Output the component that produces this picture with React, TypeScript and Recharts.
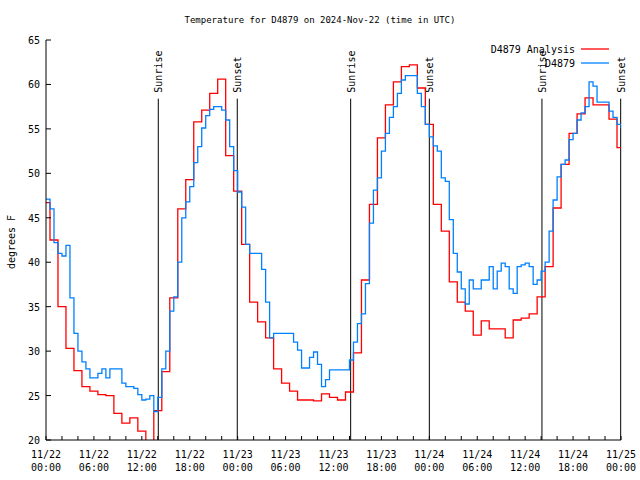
import { LineChart, Line, XAxis, YAxis, ReferenceLine, Legend } from "recharts";

const FONT = "'DejaVu Sans Mono', monospace";

// hourly analysis values, hour 0 = 11/22 00:00 UTC
const analysisTemps = [
  46.7, 42.5, 35.0, 30.3, 27.8, 26.0, 25.5, 25.1, 25.0, 23.0, 21.9, 22.5,
  21.0, 19.0, 23.3, 27.7, 36.0, 46.0, 49.3, 55.8, 57.1, 59.0, 60.6, 52.0,
  48.0, 42.0, 35.5, 33.3, 31.5, 28.0, 26.4, 25.5, 24.5, 24.5, 24.4, 25.2,
  24.8, 24.5, 25.4, 29.8, 38.0, 46.5, 54.0, 57.7, 60.3, 62.0, 62.2, 59.6,
  55.5, 46.5, 43.5, 37.8, 35.5, 34.5, 31.8, 33.4, 32.5, 32.5, 31.5, 33.5,
  33.7, 34.2, 36.1, 39.5, 46.1, 51.0, 54.5, 56.7, 58.5, 57.7, 57.7, 56.1,
  52.9,
];

// station observations, every half hour
const stationTemps = [
  47.1, 46.0, 42.2, 41.0, 40.7, 41.9, 36.0, 32.0, 30.0, 28.8, 28.0, 27.0,
  27.0, 27.5, 28.0, 27.0, 28.0, 28.0, 28.0, 26.4, 26.0, 26.0, 25.8, 25.1,
  24.5, 24.6, 25.0, 23.2, 24.8, 28.0, 30.0, 34.5, 36.1, 40.0, 45.0, 46.8,
  48.5, 51.2, 53.0, 55.1, 56.5, 57.2, 57.5, 57.5, 57.1, 56.0, 53.0, 50.3,
  47.9, 46.2, 42.0, 41.0, 41.0, 41.0, 39.2, 35.5, 31.5, 32.0, 32.0, 32.0,
  32.0, 32.0, 31.0, 30.1, 28.1, 28.1, 29.3, 29.9, 28.5, 26.0, 26.8, 27.9,
  27.9, 27.9, 27.9, 27.9, 29.0, 31.0, 33.1, 34.2, 37.6, 44.4, 48.1, 49.5,
  52.5, 54.5, 56.3, 57.5, 59.0, 60.5, 61.0, 61.0, 61.0, 59.0, 57.5, 55.5,
  54.1, 53.1, 52.5, 49.5, 49.1, 44.8, 41.0, 38.9, 37.0, 35.3, 38.0, 37.0,
  37.0, 38.0, 38.0, 39.5, 37.0, 39.0, 39.9, 39.5, 37.0, 36.5, 39.5, 39.7,
  39.9, 39.5, 37.5, 38.0, 39.0, 40.0, 43.5, 47.0, 49.6, 51.0, 51.5, 53.8,
  54.5, 56.0, 56.8, 57.5, 60.3, 59.8, 58.0, 58.0, 58.0, 57.0, 56.3, 55.5,
  55.1,
];

const sunrises = [14.06, 38.15, 62.1];
const sunsets = [23.95, 48.0, 71.96];

const xTicks = Array.from({ length: 37 }, (_, i) => i * 2);
const yTicks = [20, 25, 30, 35, 40, 45, 50, 55, 60, 65];

const analysisData = analysisTemps.map((v, i) => ({ t: i, v }));
const stationData = stationTemps.map((v, i) => ({ t: i * 0.5, v }));

function BottomTick({ x, y, payload }: any) {
  const t = payload.value;
  const major = t % 6 === 0;
  const day = 22 + Math.floor(t / 24);
  const hh = String(t % 24).padStart(2, "0");
  return (
    <g>
      <line x1={x} x2={x} y1={y} y2={y - 4} stroke="#000" />
      {major && (
        <text x={x} y={y + 18} textAnchor="middle" fontFamily={FONT} fontSize={10} fill="#000">
          <tspan x={x}>{`11/${day}`}</tspan>
          <tspan x={x} dy={13}>{`${hh}:00`}</tspan>
        </text>
      )}
    </g>
  );
}

function TopTick({ x, y }: any) {
  return <line x1={x} x2={x} y1={y} y2={y + 4} stroke="#000" />;
}

function LeftTick({ x, y, payload }: any) {
  return (
    <g>
      <line x1={x} x2={x + 5} y1={y} y2={y} stroke="#000" />
      <text x={x - 6} y={y + 4} textAnchor="end" fontFamily={FONT} fontSize={10} fill="#000">
        {payload.value}
      </text>
    </g>
  );
}

function RightTick({ x, y }: any) {
  return <line x1={x} x2={x - 5} y1={y} y2={y} stroke="#000" />;
}

function YLabel({ viewBox }: any) {
  const y = viewBox.y + viewBox.height / 2 + 2;
  return (
    <text x={15} y={y} transform={`rotate(-90 15 ${y})`} textAnchor="middle" fontFamily={FONT} fontSize={10} fill="#000">
      degrees F
    </text>
  );
}

function SunLabel({ viewBox, text }: any) {
  const x = viewBox.x + 4;
  const y = viewBox.y - 6;
  return (
    <text x={x} y={y} transform={`rotate(-90 ${x} ${y})`} fontFamily={FONT} fontSize={10} fill="#000">
      {text}
    </text>
  );
}

function LegendBox() {
  const rows = [
    { name: "D4879 Analysis", color: "#ff0000" },
    { name: "D4879", color: "#0080ff" },
  ];
  return (
    <div style={{ fontFamily: FONT, fontSize: 10, color: "#000" }}>
      {rows.map((r) => (
        <div key={r.name} style={{ display: "flex", justifyContent: "flex-end", alignItems: "center", height: 14 }}>
          <span>{r.name}</span>
          <svg width={28} height={4} style={{ marginLeft: 6, display: "block" }}>
            <line x1={0} x2={28} y1={2} y2={2} stroke={r.color} strokeWidth={1.3} />
          </svg>
        </div>
      ))}
    </div>
  );
}

export default function App() {
  return (
    <div style={{ position: "absolute", left: 0, top: 0, width: 640, height: 480, background: "#fff" }}>
      <div
        style={{
          position: "absolute",
          top: 13,
          left: 0,
          width: 640,
          textAlign: "center",
          fontFamily: FONT,
          fontSize: 9,
          lineHeight: "14px",
        }}
      >
        Temperature for D4879 on 2024-Nov-22 (time in UTC)
      </div>
      <LineChart width={640} height={480} margin={{ top: 40, right: 19, bottom: 0, left: 6 }}>
        <XAxis
          dataKey="t"
          type="number"
          domain={[0, 72]}
          ticks={xTicks}
          interval={0}
          height={40}
          tickSize={0}
          tickMargin={0}
          tickLine={false}
          axisLine={{ stroke: "#000" }}
          tick={<BottomTick />}
          allowDataOverflow
        />
        <XAxis
          xAxisId="top"
          orientation="top"
          dataKey="t"
          type="number"
          domain={[0, 72]}
          ticks={xTicks}
          interval={0}
          height={0}
          tickSize={0}
          tickMargin={0}
          tickLine={false}
          axisLine={{ stroke: "#000" }}
          tick={<TopTick />}
          allowDataOverflow
        />
        <YAxis
          type="number"
          domain={[20, 65]}
          ticks={yTicks}
          interval={0}
          width={40}
          tickSize={0}
          tickMargin={0}
          tickLine={false}
          axisLine={{ stroke: "#000" }}
          tick={<LeftTick />}
          label={<YLabel />}
          allowDataOverflow
        />
        <YAxis
          yAxisId="right"
          orientation="right"
          type="number"
          domain={[20, 65]}
          ticks={yTicks}
          interval={0}
          width={0}
          tickSize={0}
          tickMargin={0}
          tickLine={false}
          axisLine={{ stroke: "#000" }}
          tick={<RightTick />}
          allowDataOverflow
        />
        {sunrises.map((t) => (
          <ReferenceLine
            key={`r${t}`}
            segment={[{ x: t, y: 58.4 }, { x: t, y: 20 }]}
            stroke="#000"
            strokeWidth={1}
            label={<SunLabel text="Sunrise" />}
          />
        ))}
        {sunsets.map((t) => (
          <ReferenceLine
            key={`s${t}`}
            segment={[{ x: t, y: 58.4 }, { x: t, y: 20 }]}
            stroke="#000"
            strokeWidth={1}
            label={<SunLabel text="Sunset" />}
          />
        ))}
        <Line
          data={analysisData}
          dataKey="v"
          name="D4879 Analysis"
          type="step"
          stroke="#ff0000"
          strokeWidth={1.3}
          dot={false}
          isAnimationActive={false}
        />
        <Line
          data={stationData}
          dataKey="v"
          name="D4879"
          type="stepAfter"
          stroke="#0080ff"
          strokeWidth={1.3}
          dot={false}
          isAnimationActive={false}
        />
        <Legend
          layout="vertical"
          align="center"
          verticalAlign="middle"
          content={<LegendBox />}
          wrapperStyle={{ top: 42, left: 0, width: 609, bottom: "auto" }}
        />
      </LineChart>
    </div>
  );
}
